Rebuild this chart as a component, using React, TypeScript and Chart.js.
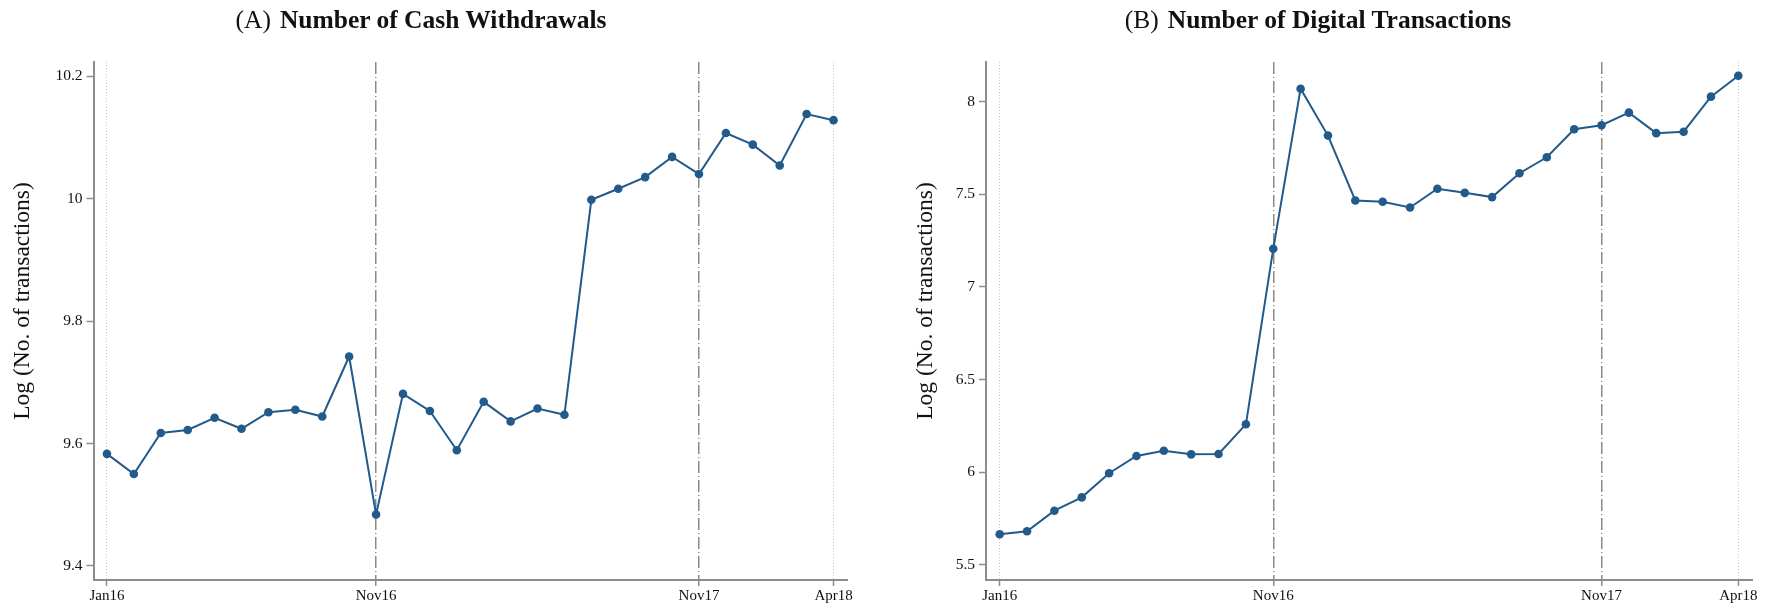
import React, { useEffect, useRef } from 'react';
import { Chart, registerables } from 'chart.js';

Chart.register(...registerables);

const months = ['Jan16', 'Feb16', 'Mar16', 'Apr16', 'May16', 'Jun16', 'Jul16', 'Aug16', 'Sep16', 'Oct16', 'Nov16', 'Dec16',
  'Jan17', 'Feb17', 'Mar17', 'Apr17', 'May17', 'Jun17', 'Jul17', 'Aug17', 'Sep17', 'Oct17', 'Nov17', 'Dec17',
  'Jan18', 'Feb18', 'Mar18', 'Apr18'];
const xTickMonths = ['Jan16', 'Nov16', 'Nov17', 'Apr18'];
const dashedMonths = ['Nov16', 'Nov17'];

const cashWithdrawals = [9.583, 9.550, 9.617, 9.622, 9.642, 9.624, 9.651, 9.655, 9.644, 9.742, 9.484, 9.681,
  9.653, 9.589, 9.668, 9.636, 9.657, 9.647, 9.998, 10.016, 10.035, 10.068, 10.040, 10.107,
  10.088, 10.054, 10.138, 10.128];
const digitalTransactions = [5.666, 5.682, 5.793, 5.865, 5.995, 6.088, 6.116, 6.097, 6.099, 6.259, 7.206, 8.070,
  7.817, 7.467, 7.460, 7.429, 7.530, 7.508, 7.485, 7.614, 7.700, 7.851, 7.873, 7.941,
  7.830, 7.838, 8.027, 8.140];

const cashTicks = [9.4, 9.6, 9.8, 10, 10.2];
const digitalTicks = [5.5, 6, 6.5, 7, 7.5, 8];

const BLUE = '#215a8b';
const AXIS = '#8c8c8c';
const FONT = 'Liberation Serif';
const Y_TITLE = 'Log (No. of transactions)';

type PanelProps = {
  left: number;
  width: number;
  values: number[];
  yTicks: number[];
  yMin: number;
  yMax: number;
  yWidth: number;
  padRight: number;
};

function Panel(p: PanelProps) {
  const ref = useRef<HTMLCanvasElement | null>(null);
  useEffect(() => {
    if (!ref.current) return;
    const isDashed = (ctx: any) => {
      const v = ctx && ctx.tick ? ctx.tick.value : null;
      return v !== null && dashedMonths.includes(months[v]);
    };
    const chart = new Chart(ref.current, {
      type: 'line',
      data: {
        datasets: [{
          data: months.map((m, i) => ({ x: i, y: p.values[i] })),
          borderColor: BLUE,
          backgroundColor: BLUE,
          pointBackgroundColor: BLUE,
          pointBorderColor: BLUE,
          pointRadius: 4.3,
          pointBorderWidth: 0,
          borderWidth: 2,
          tension: 0,
        }],
      },
      options: {
        animation: false,
        responsive: false,
        events: [],
        layout: { padding: { top: 62, left: 0, right: p.padRight, bottom: 0 } },
        plugins: { legend: { display: false }, tooltip: { enabled: false } },
        scales: {
          x: {
            type: 'linear',
            min: -0.5,
            max: 27.5,
            afterBuildTicks: (s: any) => { s.ticks = xTickMonths.map((m) => ({ value: months.indexOf(m) })); },
            afterFit: (s: any) => { s.height = 31; },
            ticks: {
              autoSkip: false,
              maxRotation: 0,
              padding: 1,
              color: '#111',
              font: { family: FONT, size: 15 },
              callback: (v: any) => months[v],
            },
            grid: {
              drawOnChartArea: true,
              color: (ctx: any) => (isDashed(ctx) ? '#8a8a8a' : '#c4c4c4'),
              lineWidth: (ctx: any) => (isDashed(ctx) ? 1.5 : 1),
              tickColor: AXIS,
              tickLength: 6,
              tickWidth: 1.5,
            },
            border: {
              color: AXIS,
              width: 2,
              dash: (ctx: any) => (ctx && ctx.tick ? (isDashed(ctx) ? [12, 3, 1, 3] : [1, 2]) : []),
            },
          },
          y: {
            type: 'linear',
            min: p.yMin,
            max: p.yMax,
            afterBuildTicks: (s: any) => { s.ticks = p.yTicks.map((v) => ({ value: v })); },
            afterFit: (s: any) => { s.width = p.yWidth; },
            ticks: {
              padding: 4,
              color: '#111',
              font: { family: FONT, size: 15.5 },
              callback: (v: any) => String(v),
            },
            grid: {
              drawOnChartArea: false,
              tickColor: AXIS,
              tickLength: 7,
              tickWidth: 1.5,
            },
            border: { color: AXIS, width: 2 },
          },
        },
      },
    } as any);
    return () => chart.destroy();
  }, []);
  return (
    <canvas
      ref={ref}
      width={p.width}
      height={611}
      style={{ position: 'absolute', left: p.left, top: 0, width: p.width, height: 611, display: 'block' }}
    />
  );
}

function Title({ center, prefix, main }: { center: number; prefix: string; main: string }) {
  return (
    <div
      style={{
        position: 'absolute',
        left: center - 350,
        width: 700,
        top: 6,
        textAlign: 'center',
        fontFamily: FONT,
        fontSize: 25.5,
        lineHeight: '28px',
        color: '#111',
        whiteSpace: 'nowrap',
      }}
    >
      <span>{prefix}</span>
      <span style={{ display: 'inline-block', width: 9 }} />
      <span style={{ fontWeight: 'bold' }}>{main}</span>
    </div>
  );
}

function YTitle({ cx, cy }: { cx: number; cy: number }) {
  return (
    <div
      style={{
        position: 'absolute',
        left: cx - 200,
        top: cy - 15,
        width: 400,
        height: 30,
        lineHeight: '30px',
        textAlign: 'center',
        fontFamily: FONT,
        fontSize: 23.5,
        color: '#111',
        whiteSpace: 'nowrap',
        transform: 'rotate(-90deg)',
        transformOrigin: '50% 50%',
      }}
    >
      {Y_TITLE}
    </div>
  );
}

export default function App() {
  return (
    <div style={{ position: 'fixed', left: 0, top: 0, width: 1775, height: 611, background: '#fff', overflow: 'hidden' }}>
      <Panel left={0} width={880} values={cashWithdrawals} yTicks={cashTicks} yMin={9.377} yMax={10.223}
        yWidth={93.5} padRight={33} />
      <Panel left={880} width={895} values={digitalTransactions} yTicks={digitalTicks} yMin={5.419} yMax={8.214}
        yWidth={106} padRight={23} />
      <Title center={421} prefix="(A)" main="Number of Cash Withdrawals" />
      <Title center={1318} prefix="(B)" main="Number of Digital Transactions" />
      <YTitle cx={21} cy={301} />
      <YTitle cx={924} cy={301} />
    </div>
  );
}
